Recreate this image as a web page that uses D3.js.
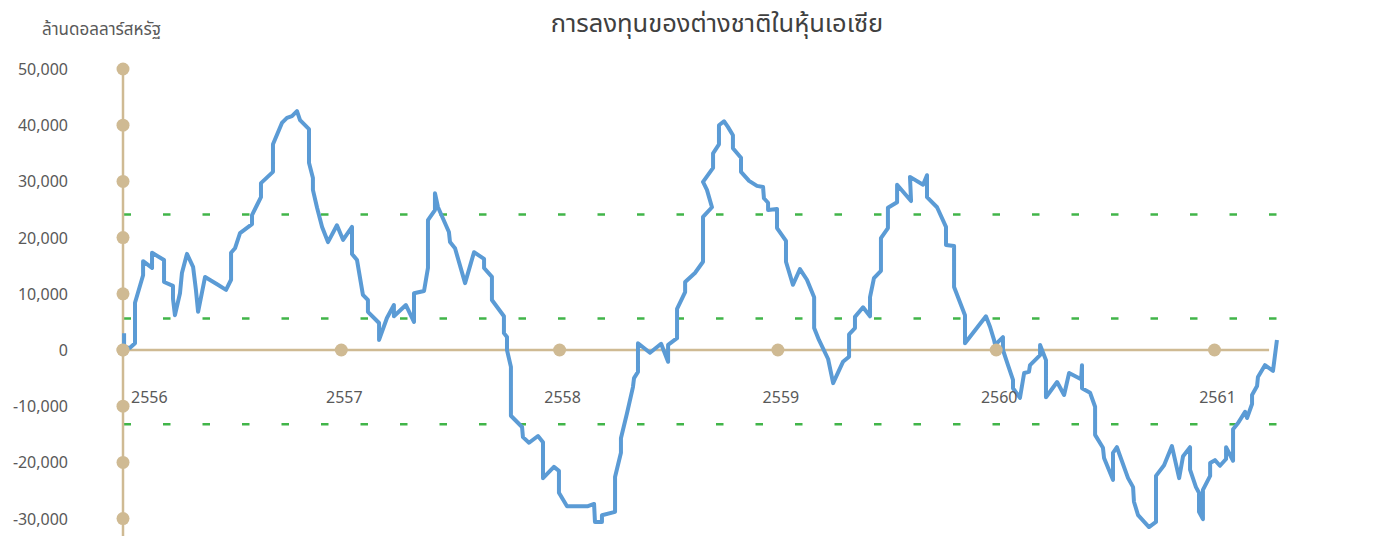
<!DOCTYPE html>
<html>
<head>
<meta charset="utf-8">
<script src="https://cdn.jsdelivr.net/npm/d3@7"></script>
<style>
  body { margin: 0; background: #fff; }
  text { font-family: "Noto Sans Thai", "Noto Sans", "DejaVu Sans", sans-serif; fill: #595959; }
</style>
</head>
<body>
<div id="chart"></div>
<script>
// time axis in Buddhist era years (decimal)
const years = [
  2556.005, 2556.005, 2556.032, 2556.055, 2556.055, 2556.092, 2556.092, 2556.133, 2556.133, 2556.188,
  2556.188, 2556.229, 2556.229, 2556.238, 2556.261, 2556.270, 2556.293, 2556.321, 2556.334, 2556.344,
  2556.376, 2556.431, 2556.472, 2556.495, 2556.495, 2556.513, 2556.536, 2556.591, 2556.591, 2556.614,
  2556.632, 2556.632, 2556.687, 2556.687, 2556.728, 2556.751, 2556.774, 2556.797, 2556.811, 2556.852,
  2556.852, 2556.870, 2556.870, 2556.889, 2556.912, 2556.939, 2556.980, 2557.008, 2557.049, 2557.049,
  2557.072, 2557.099, 2557.122, 2557.122, 2557.173, 2557.173, 2557.209, 2557.241, 2557.241, 2557.296,
  2557.333, 2557.333, 2557.379, 2557.397, 2557.397, 2557.429, 2557.429, 2557.443, 2557.493, 2557.498,
  2557.521, 2557.567, 2557.608, 2557.654, 2557.654, 2557.690, 2557.690, 2557.745, 2557.745, 2557.759,
  2557.759, 2557.777, 2557.777, 2557.828, 2557.832, 2557.860, 2557.901, 2557.924, 2557.924, 2557.974,
  2557.997, 2557.997, 2558.034, 2558.130, 2558.158, 2558.162, 2558.194, 2558.194, 2558.254, 2558.254,
  2558.281, 2558.281, 2558.309, 2558.336, 2558.341, 2558.359, 2558.359, 2558.414, 2558.465, 2558.497,
  2558.497, 2558.538, 2558.538, 2558.575, 2558.575, 2558.620, 2558.657, 2558.657, 2558.698, 2558.675,
  2558.657, 2558.703, 2558.703, 2558.730, 2558.730, 2558.753, 2558.771, 2558.794, 2558.794, 2558.831,
  2558.831, 2558.868, 2558.904, 2558.932, 2558.936, 2558.955, 2558.955, 2558.996, 2558.996, 2559.037,
  2559.037, 2559.069, 2559.101, 2559.133, 2559.166, 2559.166, 2559.188, 2559.230, 2559.253, 2559.298,
  2559.326, 2559.326, 2559.353, 2559.353, 2559.390, 2559.422, 2559.422, 2559.440, 2559.472, 2559.472,
  2559.504, 2559.504, 2559.546, 2559.546, 2559.610, 2559.605, 2559.665, 2559.683, 2559.683, 2559.729,
  2559.770, 2559.770, 2559.807, 2559.807, 2559.857, 2559.857, 2559.953, 2559.972, 2559.990, 2559.995,
  2560.031, 2560.031, 2560.054, 2560.077, 2560.077, 2560.109, 2560.128, 2560.150, 2560.155, 2560.201,
  2560.201, 2560.228, 2560.228, 2560.279, 2560.311, 2560.334, 2560.389, 2560.393, 2560.393, 2560.430,
  2560.453, 2560.453, 2560.489, 2560.494, 2560.535, 2560.535, 2560.553, 2560.604, 2560.627, 2560.631,
  2560.650, 2560.700, 2560.732, 2560.732, 2560.769, 2560.805, 2560.838, 2560.856, 2560.888, 2560.888,
  2560.915, 2560.929, 2560.929, 2560.947, 2560.947, 2560.980, 2560.980, 2561.002, 2561.025, 2561.053,
  2561.053, 2561.085, 2561.085, 2561.108, 2561.140, 2561.149, 2561.172, 2561.172, 2561.195, 2561.199,
  2561.231, 2561.268, 2561.286
];

// net foreign flow, million USD
const flows = [
  3000, 400, 400, 1200, 8400, 13300, 15800, 14600, 17300, 16000,
  12100, 11400, 9100, 6200, 10100, 13700, 17100, 14800, 10700, 6800,
  13000, 11700, 10700, 12500, 17300, 18100, 20800, 22400, 24000, 25800,
  27200, 29700, 31700, 36600, 40400, 41300, 41600, 42500, 40900, 39300,
  33300, 30600, 28500, 25300, 21900, 19200, 22200, 19600, 21900, 17100,
  16000, 9800, 8900, 6800, 4800, 1800, 5700, 8000, 6000, 8000,
  5000, 10100, 10500, 14600, 23100, 24900, 27900, 25400, 21000, 19200,
  18100, 11900, 17400, 16200, 14600, 13000, 8900, 6000, 3000, 2300,
  0, -3000, -11700, -13700, -15500, -16500, -15300, -16400, -22800, -20800,
  -21500, -25400, -27800, -27800, -27400, -30600, -30600, -29400, -28800, -22600,
  -18300, -15700, -11200, -6600, -5000, -3900, 1200, -500, 1100, -2100,
  900, 2100, 7300, 10300, 12100, 13700, 15700, 23700, 25400, 28500,
  29900, 32400, 35000, 36600, 40000, 40700, 39700, 38200, 35900, 34200,
  31700, 30100, 29200, 29000, 27000, 26200, 24900, 25100, 21700, 19400,
  15700, 11600, 14400, 12500, 9400, 3900, 1800, -1600, -5900, -2100,
  -1200, 2800, 3900, 5900, 7600, 6000, 9400, 12800, 14100, 19900,
  21700, 25300, 26300, 29400, 26500, 30800, 29400, 31100, 27200, 25400,
  21900, 18700, 18500, 11200, 6200, 1200, 6000, 4100, 1800, 900,
  2300, 0, -2700, -5300, -6800, -8500, -4100, -3900, -2700, -900,
  900, -1800, -8400, -5700, -8000, -4100, -5200, -2700, -6800, -7600,
  -10100, -15100, -17400, -19200, -23100, -18300, -17300, -22800, -24400, -27000,
  -29400, -31500, -30600, -22400, -20500, -17100, -22800, -18900, -17300, -21300,
  -24400, -25400, -28800, -30100, -24900, -22400, -20100, -19600, -20600, -19400,
  -17300, -19700, -14100, -13000, -11000, -12100, -9600, -8000, -6400, -4800,
  -2700, -3700, 1800
];

const yearTicks = [2556, 2557, 2558, 2559, 2560, 2561];
const valueTicks = [50000, 40000, 30000, 20000, 10000, 0, -10000, -20000, -30000];
// average and +/- one standard deviation
const bandLevels = [24100, 5600, -13200];

const titleText = "การลงทุนของต่างชาติในหุ้นเอเซีย";
const unitText = "ล้านดอลลาร์สหรัฐ";

const width = 1396, height = 536;
const axisColor = "#cfba93";

const svg = d3.select("#chart").append("svg")
    .attr("width", width)
    .attr("height", height);

const x = d3.scaleLinear()
    .domain([2556, 2561.3])
    .range([123, 123 + 5.3 * 218.3]);

const y = d3.scaleLinear()
    .domain([-30000, 50000])
    .range([518.6, 69]);

// title + unit
svg.append("text")
    .attr("x", 717).attr("y", 32)
    .attr("text-anchor", "middle")
    .style("font-size", "25.5px")
    .style("fill", "#404040")
    .text(titleText);

svg.append("text")
    .attr("x", 42).attr("y", 35)
    .style("font-size", "17px")
    .text(unitText);

// dashed reference lines
svg.append("g").selectAll("line")
    .data(bandLevels)
    .enter().append("line")
    .attr("x1", x(2556)).attr("x2", x(2561.29))
    .attr("y1", d => y(d)).attr("y2", d => y(d))
    .attr("stroke", "#41b549")
    .attr("stroke-width", 2.5)
    .attr("stroke-dasharray", "7.5 32")
    .attr("stroke-dashoffset", -0.5);

// y axis line and zero line
svg.append("line")
    .attr("x1", x(2556)).attr("x2", x(2556))
    .attr("y1", y(50000)).attr("y2", height)
    .attr("stroke", axisColor).attr("stroke-width", 2.5);

svg.append("line")
    .attr("x1", x(2556)).attr("x2", x(2561.25))
    .attr("y1", y(0)).attr("y2", y(0))
    .attr("stroke", axisColor).attr("stroke-width", 2.5);

// y tick labels + dots
svg.append("g").selectAll("text")
    .data(valueTicks)
    .enter().append("text")
    .attr("x", 68)
    .attr("y", d => y(d) + 6)
    .attr("text-anchor", "end")
    .style("font-size", "16px")
    .text(d => d3.format(",")(d));

svg.append("g").selectAll("circle")
    .data(valueTicks)
    .enter().append("circle")
    .attr("cx", x(2556))
    .attr("cy", d => y(d))
    .attr("r", 6.5)
    .attr("fill", axisColor);

// the flow line
const line = d3.line()
    .x(d => x(d[0]))
    .y(d => y(d[1]));

svg.append("path")
    .datum(d3.zip(years, flows))
    .attr("d", line)
    .attr("fill", "none")
    .attr("stroke", "#5b9bd5")
    .attr("stroke-width", 4)
    .attr("stroke-linejoin", "round");

// year dots and labels on zero line
svg.append("g").selectAll("circle")
    .data(yearTicks)
    .enter().append("circle")
    .attr("cx", d => x(d))
    .attr("cy", y(0))
    .attr("r", 6.5)
    .attr("fill", axisColor);

svg.append("g").selectAll("text")
    .data(yearTicks)
    .enter().append("text")
    .attr("x", (d, i) => i == 0 ? x(d) + 8 : x(d) + 3)
    .attr("y", y(0) + 53)
    .attr("text-anchor", (d, i) => i == 0 ? "start" : "middle")
    .style("font-size", "16px")
    .text(d => d);
</script>
</body>
</html>
